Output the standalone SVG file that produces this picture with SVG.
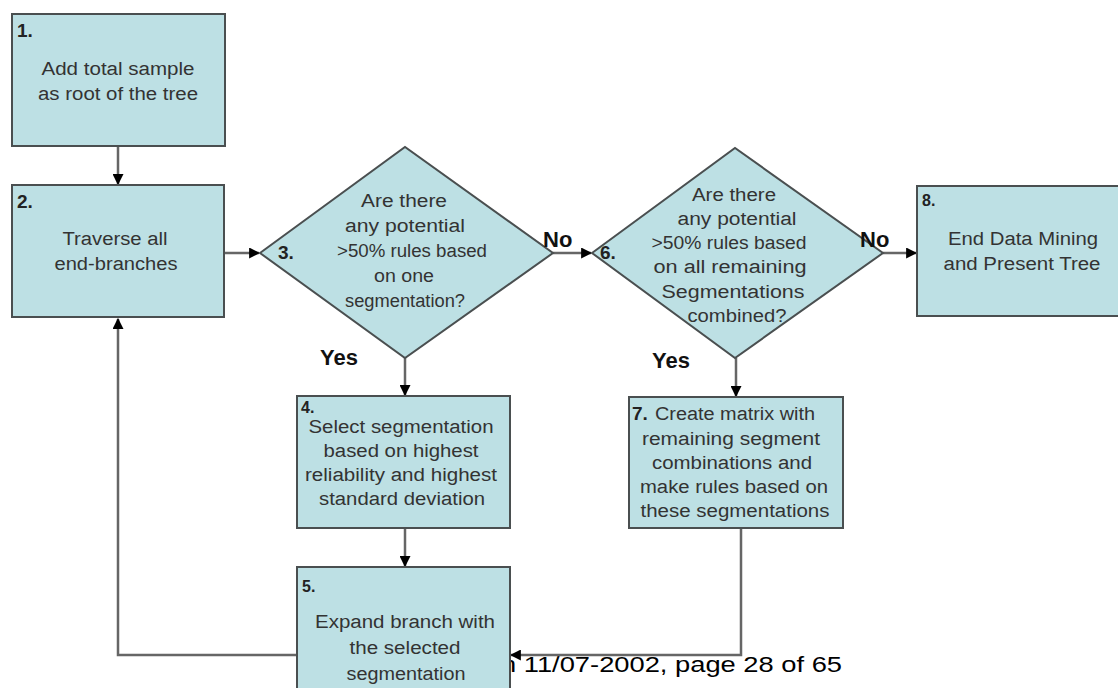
<svg xmlns="http://www.w3.org/2000/svg" width="1118" height="688" viewBox="0 0 1118 688">
<defs>
<marker id="ah" viewBox="0 0 10 10" refX="9" refY="5" markerWidth="11" markerHeight="11" markerUnits="userSpaceOnUse" orient="auto">
<path d="M0,0 L10,5 L0,10 z" fill="#000"/>
</marker>
<style>
.box{fill:#bde0e4;stroke:#4a4f50;stroke-width:2}
.t{font-family:"Liberation Sans",Arial,sans-serif;font-size:18px;fill:#333;text-anchor:middle}
.n{font-family:"Liberation Sans",Arial,sans-serif;font-size:19px;font-weight:bold;fill:#222}
.s{font-family:"Liberation Sans",Arial,sans-serif;font-size:16px;font-weight:bold;fill:#222}
.lab{font-family:"Liberation Sans",Arial,sans-serif;font-size:22px;font-weight:bold;fill:#111}
.c{fill:none;stroke:#666;stroke-width:2.5}
.foot{font-family:"Liberation Sans",Arial,sans-serif;font-size:22px;fill:#000}
</style>
</defs>
<rect width="1118" height="688" fill="#fff"/>

<text class="foot" x="501" y="672" textLength="341" lengthAdjust="spacingAndGlyphs">n 11/07-2002, page 28 of 65</text>

<g id="connectors">
<line class="c" x1="118" y1="147" x2="118" y2="184" marker-end="url(#ah)"/>
<line class="c" x1="224" y1="253" x2="259" y2="253" marker-end="url(#ah)"/>
<line class="c" x1="553" y1="253" x2="591" y2="253" marker-end="url(#ah)"/>
<line class="c" x1="883" y1="253" x2="916" y2="253" marker-end="url(#ah)"/>
<line class="c" x1="405" y1="358" x2="405" y2="395" marker-end="url(#ah)"/>
<line class="c" x1="736" y1="358" x2="736" y2="396" marker-end="url(#ah)"/>
<line class="c" x1="405" y1="529" x2="405" y2="566" marker-end="url(#ah)"/>
<polyline class="c" points="741,529 741,655 511,655" marker-end="url(#ah)"/>
<polyline class="c" points="297,655 118,655 118,319" marker-end="url(#ah)"/>
</g>

<g id="n1">
<rect class="box" x="12" y="14" width="213" height="132"/>
<text class="n" x="17" y="37">1.</text>
<text class="t" x="118" y="75" textLength="153" lengthAdjust="spacingAndGlyphs">Add total sample</text>
<text class="t" x="118" y="100" textLength="160" lengthAdjust="spacingAndGlyphs">as root of the tree</text>
</g>

<g id="n2">
<rect class="box" x="12" y="185" width="212" height="132"/>
<text class="n" x="17" y="208">2.</text>
<text class="t" x="115" y="245" textLength="105" lengthAdjust="spacingAndGlyphs">Traverse all</text>
<text class="t" x="116" y="270" textLength="123" lengthAdjust="spacingAndGlyphs">end-branches</text>
</g>

<g id="n3">
<polygon class="box" points="260,253 405,147 553,253 405,358"/>
<text class="n" x="278" y="259">3.</text>
<text class="t" x="404" y="207" textLength="86" lengthAdjust="spacingAndGlyphs">Are there</text>
<text class="t" x="405" y="232" textLength="120" lengthAdjust="spacingAndGlyphs">any potential</text>
<text class="t" x="412" y="257" textLength="150" lengthAdjust="spacingAndGlyphs">&gt;50% rules based</text>
<text class="t" x="404" y="282" textLength="60" lengthAdjust="spacingAndGlyphs">on one</text>
<text class="t" x="405" y="307" textLength="120" lengthAdjust="spacingAndGlyphs">segmentation?</text>
</g>

<g id="n6">
<polygon class="box" points="592,253 735,148 883,253 735,358"/>
<text class="n" x="600" y="259">6.</text>
<text class="t" x="734" y="201" textLength="84" lengthAdjust="spacingAndGlyphs">Are there</text>
<text class="t" x="737" y="225" textLength="119" lengthAdjust="spacingAndGlyphs">any potential</text>
<text class="t" x="729" y="249" textLength="155" lengthAdjust="spacingAndGlyphs">&gt;50% rules based</text>
<text class="t" x="730" y="273" textLength="153" lengthAdjust="spacingAndGlyphs">on all remaining</text>
<text class="t" x="733" y="298" textLength="143" lengthAdjust="spacingAndGlyphs">Segmentations</text>
<text class="t" x="737" y="322" textLength="99" lengthAdjust="spacingAndGlyphs">combined?</text>
</g>

<g id="n8">
<rect class="box" x="917" y="186" width="210" height="130"/>
<text class="s" x="922" y="206">8.</text>
<text class="t" x="1023" y="245" textLength="150" lengthAdjust="spacingAndGlyphs">End Data Mining</text>
<text class="t" x="1022" y="270" textLength="157" lengthAdjust="spacingAndGlyphs">and Present Tree</text>
</g>

<g id="n4">
<rect class="box" x="297" y="396" width="213" height="132"/>
<text class="s" x="301" y="413">4.</text>
<text class="t" x="401" y="433" textLength="185" lengthAdjust="spacingAndGlyphs">Select segmentation</text>
<text class="t" x="401" y="457" textLength="155" lengthAdjust="spacingAndGlyphs">based on highest</text>
<text class="t" x="401" y="481" textLength="192" lengthAdjust="spacingAndGlyphs">reliability and highest</text>
<text class="t" x="402" y="505" textLength="166" lengthAdjust="spacingAndGlyphs">standard deviation</text>
</g>

<g id="n7">
<rect class="box" x="629" y="397" width="214" height="131"/>
<text class="n" x="632" y="420">7.</text>
<text class="t" x="735" y="420" textLength="160" lengthAdjust="spacingAndGlyphs">Create matrix with</text>
<text class="t" x="731" y="445" textLength="178" lengthAdjust="spacingAndGlyphs">remaining segment</text>
<text class="t" x="732" y="469" textLength="160" lengthAdjust="spacingAndGlyphs">combinations and</text>
<text class="t" x="734" y="493" textLength="188" lengthAdjust="spacingAndGlyphs">make rules based on</text>
<text class="t" x="735" y="517" textLength="189" lengthAdjust="spacingAndGlyphs">these segmentations</text>
</g>

<g id="n5">
<rect class="box" x="297" y="567" width="213" height="130"/>
<text class="s" x="302" y="592">5.</text>
<text class="t" x="405" y="628" textLength="180" lengthAdjust="spacingAndGlyphs">Expand branch with</text>
<text class="t" x="405" y="654" textLength="111" lengthAdjust="spacingAndGlyphs">the selected</text>
<text class="t" x="406" y="680" textLength="119" lengthAdjust="spacingAndGlyphs">segmentation</text>
</g>

<g id="labels">
<text class="lab" x="543" y="247">No</text>
<text class="lab" x="860" y="247">No</text>
<text class="lab" x="320" y="365">Yes</text>
<text class="lab" x="652" y="368">Yes</text>
</g>
</svg>
